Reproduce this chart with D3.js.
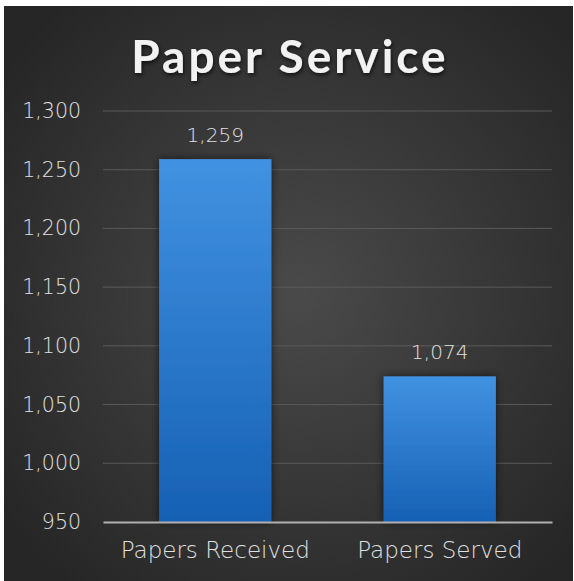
<!DOCTYPE html>
<html><head><meta charset="utf-8">
<script src="https://cdn.jsdelivr.net/npm/d3@7"></script>
<style>
html,body{margin:0;padding:0;background:#fff;}
svg{display:block;}
</style></head>
<body>
<script>
const categories = ["Papers Received", "Papers Served"];
const values = [1259, 1074];
const tickValues = [950, 1000, 1050, 1100, 1150, 1200, 1250, 1300];
const title = "Paper Service";

const W = 574, H = 581;
const svg = d3.select("body").append("svg").attr("width", W).attr("height", H);
const defs = svg.append("defs");

const bg = defs.append("radialGradient").attr("id","bg").attr("cx","52%").attr("cy","50%").attr("r","65%");
bg.append("stop").attr("offset","0%").attr("stop-color","#4a4a4a");
bg.append("stop").attr("offset","100%").attr("stop-color","#262626");

const bar = defs.append("linearGradient").attr("id","bar").attr("x1",0).attr("y1",0).attr("x2",0).attr("y2",1);
bar.append("stop").attr("offset","0%").attr("stop-color","#4192e2");
bar.append("stop").attr("offset","100%").attr("stop-color","#1660b4");

const sh = defs.append("filter").attr("id","sh").attr("x","-20%").attr("y","-20%").attr("width","140%").attr("height","140%");
sh.append("feDropShadow").attr("dx",0).attr("dy",0).attr("stdDeviation",4).attr("flood-color","#000").attr("flood-opacity",0.6);

const tsh = defs.append("filter").attr("id","tsh").attr("x","-10%").attr("y","-30%").attr("width","120%").attr("height","160%");
tsh.append("feDropShadow").attr("dx",1).attr("dy",2).attr("stdDeviation",2).attr("flood-color","#000").attr("flood-opacity",0.7);

svg.append("rect").attr("x",4).attr("y",6).attr("width",569).attr("height",H-6).attr("fill","url(#bg)");

const font = "'DejaVu Sans', Lato, sans-serif";
const titleFont = "Lato, 'Open Sans', sans-serif";

svg.append("text").attr("x", 290).attr("y", 73).attr("text-anchor","middle")
  .attr("font-family", titleFont).attr("font-weight", 700).attr("font-size", 46)
  .attr("letter-spacing", 3).attr("fill","#f2f2f2").attr("filter","url(#tsh)").text(title);

const left = 103, right = 552, bottom = 522;
const y = d3.scaleLinear().domain([950, 1300]).range([bottom, 111]);
const x = d3.scaleBand().domain(categories).range([left, right]).paddingInner(0.5).paddingOuter(0.25);

// gridlines
svg.append("g").selectAll("line").data(tickValues.filter(d => d > 950)).join("line")
  .attr("x1", left).attr("x2", right).attr("y1", d => y(d)).attr("y2", d => y(d))
  .attr("stroke", "#5a5a5a").attr("stroke-width", 1);

// y axis
const yAxis = svg.append("g").attr("transform", `translate(${left},0)`)
  .call(d3.axisLeft(y).tickValues(tickValues).tickFormat(d3.format(",")).tickSize(0).tickPadding(22));
yAxis.select(".domain").remove();
yAxis.selectAll("text").attr("font-family", font).attr("font-weight", 200).attr("font-size", 20.5).attr("fill", "#e0e0e0");

// bars
svg.append("g").selectAll("rect").data(values).join("rect")
  .attr("x", (d,i) => x(categories[i])).attr("width", x.bandwidth())
  .attr("y", d => y(d)).attr("height", d => bottom - y(d))
  .attr("fill", "url(#bar)").attr("filter", "url(#sh)");

// data labels
svg.append("g").selectAll("text").data(values).join("text")
  .attr("x", (d,i) => x(categories[i]) + x.bandwidth()/2).attr("y", d => y(d) - 17)
  .attr("text-anchor","middle").attr("font-family", font).attr("font-weight", 200).attr("font-size", 20)
  .attr("fill","#e0e0e0").text(d => d3.format(",")(d));

// x axis baseline
const xAxis = svg.append("g").attr("transform", `translate(0,${bottom})`)
  .call(d3.axisBottom(x).tickSize(0).tickPadding(20));
xAxis.select(".domain").attr("stroke", "#b0b0b0").attr("stroke-width", 2);
xAxis.selectAll("text").attr("font-family", font).attr("font-weight", 200).attr("font-size", 23).attr("fill", "#e0e0e0");
</script>
</body></html>
